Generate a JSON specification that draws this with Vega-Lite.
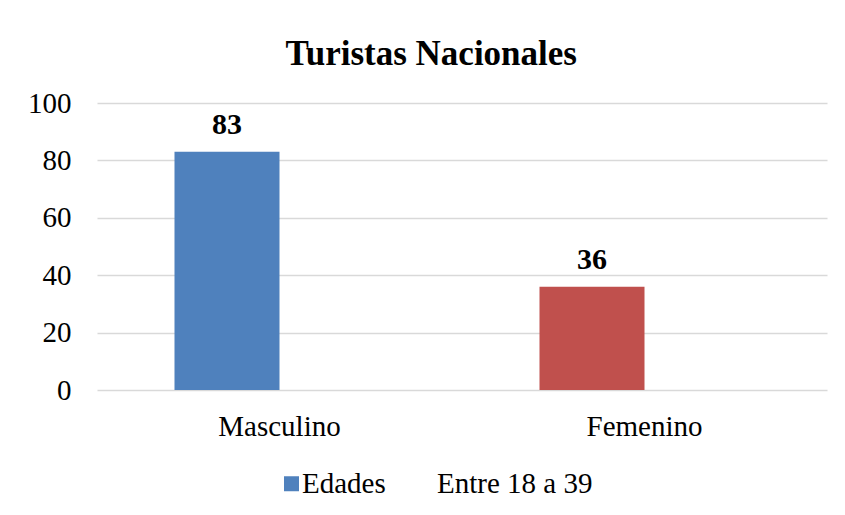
{
  "$schema": "https://vega.github.io/schema/vega-lite/v6.json",
  "width": 730,
  "height": 287,
  "padding": {"left": 27, "top": 37, "right": 18, "bottom": 5},
  "background": "white",
  "config": {
    "font": "Liberation Serif",
    "view": {"stroke": null}
  },
  "title": {
    "text": "Turistas Nacionales",
    "fontSize": 35,
    "fontWeight": "bold",
    "font": "Liberation Serif",
    "color": "#000000",
    "anchor": "middle",
    "frame": "bounds",
    "dx": 4,
    "offset": 17
  },
  "data": {
    "values": [
      {"genero": "Masculino", "serie": "Edades", "valor": 83},
      {"genero": "Femenino", "serie": "Edades", "valor": 36}
    ]
  },
  "encoding": {
    "x": {
      "field": "genero",
      "type": "nominal",
      "sort": ["Masculino", "Femenino"],
      "scale": {"paddingInner": 0, "paddingOuter": 0},
      "axis": {
        "title": null,
        "labelAngle": 0,
        "labelFontSize": 29,
        "labelColor": "#000000",
        "labelPadding": 22,
        "ticks": false,
        "domain": false,
        "grid": false
      }
    },
    "xOffset": {
      "field": "serie",
      "type": "nominal",
      "scale": {"domain": ["Edades", "Entre 18 a 39"], "paddingInner": 0, "paddingOuter": 0.738}
    },
    "y": {
      "field": "valor",
      "type": "quantitative",
      "scale": {"domain": [0, 100]},
      "axis": {
        "title": null,
        "values": [0, 20, 40, 60, 80, 100],
        "labelFontSize": 29,
        "labelColor": "#000000",
        "labelPadding": 26,
        "ticks": false,
        "domain": false,
        "grid": true,
        "gridColor": "#D9D9D9",
        "gridWidth": 1.5
      }
    }
  },
  "layer": [
    {
      "mark": {"type": "bar"},
      "encoding": {
        "fill": {
          "field": "genero",
          "type": "nominal",
          "scale": {"domain": ["Masculino", "Femenino"], "range": ["#4F81BD", "#C0504D"]},
          "legend": null
        }
      }
    },
    {
      "mark": {"type": "point", "shape": "square", "filled": true, "opacity": 0},
      "encoding": {
        "color": {
          "field": "serie",
          "type": "nominal",
          "scale": {"domain": ["Edades", "Entre 18 a 39"], "range": ["#4F81BD", "rgba(255,255,255,0)"]},
          "legend": {
            "title": null,
            "orient": "none",
            "direction": "horizontal",
            "legendX": 180,
            "legendY": 366,
            "padding": 0,
            "symbolType": "square",
            "symbolSize": 225,
            "symbolOpacity": 1,
            "symbolStrokeWidth": 0,
            "labelFontSize": 29,
            "labelColor": "#000000",
            "labelOffset": -4,
            "columnPadding": 26,
            "labelLimit": 400
          }
        }
      }
    },
    {
      "mark": {"type": "text", "fontSize": 30, "fontWeight": "bold", "baseline": "alphabetic", "dy": -18, "color": "#000000"},
      "encoding": {
        "text": {"field": "valor", "type": "quantitative"}
      }
    }
  ]
}
